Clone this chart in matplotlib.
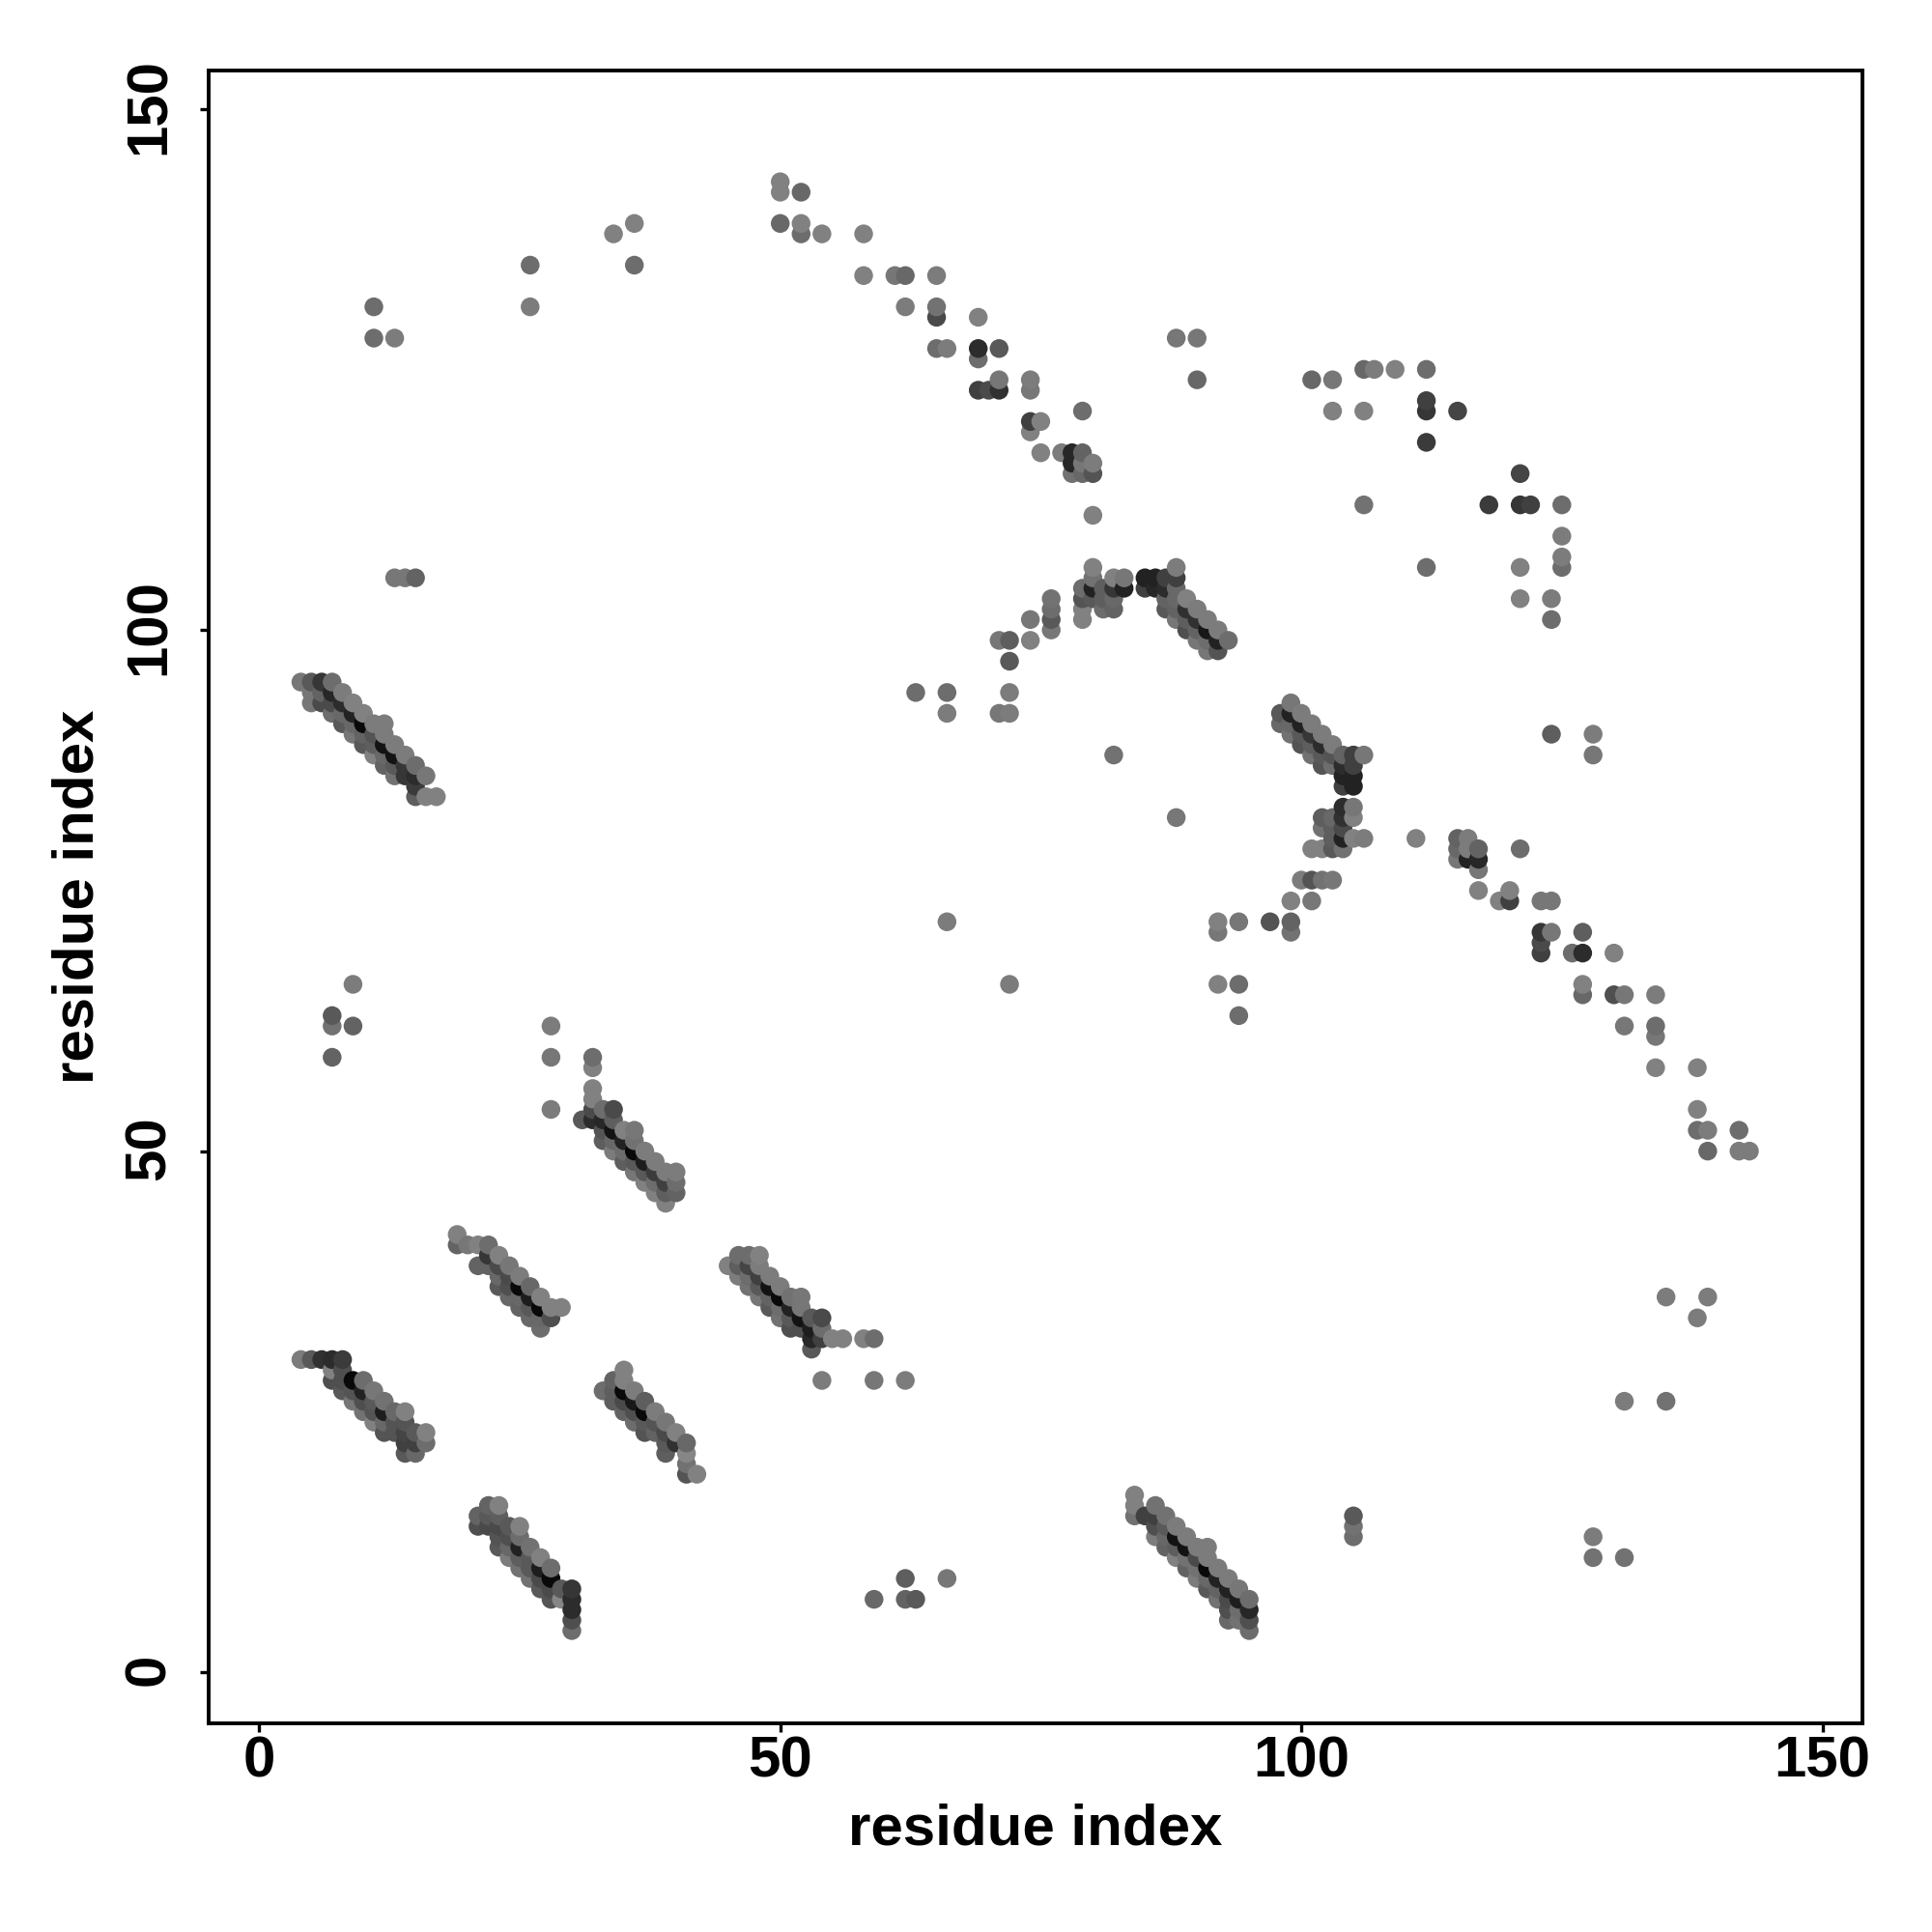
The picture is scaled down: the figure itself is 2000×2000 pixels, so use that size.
import numpy as np
import matplotlib
matplotlib.use("Agg")
import matplotlib.pyplot as plt
from matplotlib.transforms import ScaledTranslation

x_ticks = [0, 50, 100, 150]
y_ticks = [0, 50, 100, 150]
x_label = "residue index"
y_label = "residue index"

# contacts: (residue i, residue j, grey level)
band_a = [(4,30,120),(5,30,85),(6,30,45),(7,30,40),(8,30,55),(7,29,125),(7,28,75),(8,29,75),(8,28,75),(9,28,5),(10,28,105),
(8,27,85),(9,27,80),(10,27,30),(11,27,115),(9,26,115),(10,26,75),(11,26,85),(12,26,110),(10,25,110),(11,25,80),(12,25,25),(13,25,100),(14,25,125),
(11,24,125),(12,24,100),(13,24,80),(14,24,80),(12,23,80),(13,23,80),(14,23,65),(15,23,85),(16,23,125),(14,22,60),(15,22,60),(16,22,105),(14,21,85),(15,21,100)]
band_b = [(19,42,125),(19,41,95),(20,41,115),(21,41,125),(22,41,105),(21,39,95),(22,40,50),(22,39,95),(23,40,125),(23,39,70),(24,39,115),
(23,38,100),(24,38,70),(25,38,120),(23,37,85),(24,37,75),(25,37,5),(26,37,100),(24,36,100),(25,36,100),(26,36,25),(27,36,125),
(25,35,95),(26,35,85),(27,35,5),(28,35,125),(29,35,125),(26,34,100),(27,34,100),(28,34,75),(27,33,105)]
band_c = [(35,29,125),(34,28,95),(35,28,125),(33,27,105),(34,27,90),(35,27,5),(36,27,120),(34,26,90),(35,26,70),(36,26,20),(37,26,90),
(35,25,95),(36,25,75),(37,25,5),(38,25,120),(36,24,105),(37,24,85),(38,24,80),(39,24,115),(37,23,80),(38,23,95),(39,23,70),(40,23,125),
(39,22,85),(40,22,45),(41,22,100),(39,21,90),(41,21,130),(41,20,110),(41,19,80),(42,19,125)]
band_d = [(22,16,95),(23,16,125),(21,15,95),(22,15,85),(23,15,90),(21,14,75),(22,14,70),(23,14,70),(24,14,85),(25,14,125),(23,13,80),(24,13,75),(25,13,105),
(23,12,85),(24,12,100),(25,12,30),(26,12,110),(24,11,120),(25,11,90),(26,11,85),(27,11,125),(25,10,110),(26,10,85),(27,10,25),(28,10,105),
(26,9,110),(27,9,70),(28,9,5),(27,8,85),(28,8,70),(29,8,85),(30,8,50),(28,7,80),(29,7,130),(30,7,40),(30,6,40),(30,5,75),(30,4,105)]
band_e = [(4,95,115),(5,95,85),(6,95,50),(7,95,105),(5,94,115),(6,94,95),(7,94,35),(8,94,120),(5,93,115),(6,93,70),(7,93,70),(8,93,40),(9,93,125),
(7,92,105),(8,92,100),(9,92,30),(10,92,125),(8,91,85),(9,91,100),(10,91,5),(11,91,120),(12,91,120),(9,90,115),(10,90,95),(11,90,80),(12,90,120),
(10,89,85),(11,89,90),(12,89,15),(13,89,120),(11,88,125),(12,88,100),(13,88,15),(14,88,120),(12,87,95),(13,87,85),(14,87,50),(15,87,105),
(13,86,110),(14,86,50),(15,86,40),(16,86,115),(15,85,55),(15,84,90),(16,84,125),(17,84,125)]
band_f = [(32,59,105),(32,58,125),(32,56,125),(32,55,125),(31,53,85),(32,54,70),(32,53,40),(33,54,105),(34,54,70),(33,53,35),(34,53,90),
(33,52,80),(34,52,15),(35,52,125),(36,52,115),(33,51,90),(34,51,100),(35,51,30),(36,51,110),(34,50,120),(35,50,105),(36,50,5),(37,50,120),
(35,49,90),(36,49,85),(37,49,25),(38,49,120),(36,48,115),(37,48,85),(38,48,55),(39,48,120),(40,48,120),(37,47,125),(38,47,105),(39,47,60),(40,47,105),
(38,46,125),(39,46,90),(40,46,95),(39,45,125)]
band_g = [(45,39,125),(46,40,105),(47,40,105),(48,40,125),(46,39,90),(47,39,65),(48,39,120),(46,38,120),(47,38,105),(48,38,60),(49,38,120),
(47,37,110),(48,37,85),(49,37,15),(50,37,120),(48,36,115),(49,36,95),(50,36,5),(51,36,110),(52,36,115),(49,35,85),(50,35,105),(51,35,30),(52,35,115),
(50,34,110),(51,34,85),(52,34,15),(53,34,85),(54,34,70),(51,33,75),(52,33,75),(53,33,25),(54,33,105),(53,32,35),(54,32,60),(55,32,125),(56,32,125),
(58,32,125),(59,32,105),(53,31,85),(54,28,120),(59,28,115),(62,28,120)]
band_h = [(84,17,125),(84,16,125),(84,15,110),(85,15,60),(86,16,110),(86,15,60),(86,14,75),(87,15,110),(87,14,85),(86,13,120),(87,13,100),(88,13,15),(88,14,120),
(87,12,95),(88,12,90),(89,12,15),(89,13,120),(88,11,125),(89,11,110),(90,11,70),(90,12,120),(91,12,120),(89,10,95),(90,10,110),(91,10,5),(91,11,120),(92,10,120),
(90,9,120),(91,9,100),(92,9,30),(93,9,120),(91,8,85),(92,8,95),(93,8,30),(94,8,115),(92,7,110),(93,7,70),(94,7,25),(95,7,105),
(93,6,75),(94,6,105),(95,6,35),(93,5,100),(94,5,110),(95,5,75),(95,4,105)]
arc_upper = [(71,99,115),(72,99,90),(72,97,85),(72,94,120),(71,92,115),(72,92,120),(74,101,115),(74,99,125),(76,103,110),(76,102,105),(76,101,85),(76,100,115),
(79,104,105),(79,103,80),(79,102,125),(79,101,125),(80,106,125),(80,105,110),(80,104,30),(80,103,85),(81,104,90),(81,103,90),(81,102,105),
(82,105,125),(82,104,50),(82,103,100),(82,102,95),(83,105,115),(83,104,30),(85,105,30),(86,105,30),(87,105,60),(88,106,120),(88,105,60),
(85,104,60),(86,104,35),(87,104,40),(88,104,100),(87,103,95),(88,103,100),(87,102,85),(88,102,95),(88,101,115),(89,103,125),(89,102,45),(90,102,120),
(89,101,90),(90,101,45),(91,101,120),(89,100,75),(90,100,95),(91,100,20),(92,100,120),(90,99,115),(91,99,105),(92,99,30),(93,99,105),(91,98,115),(92,98,80)]
band_i = [(99,93,115),(98,92,85),(99,92,30),(100,92,120),(98,91,100),(99,91,100),(100,91,30),(101,91,120),(99,90,110),(100,90,85),(101,90,50),(102,90,120),
(100,89,80),(101,89,90),(102,89,40),(103,89,120),(101,88,110),(102,88,85),(103,88,80),(104,88,95),(105,88,60),(106,88,115),(102,87,80),(103,87,105),(104,87,40),(105,87,60),
(104,86,30),(105,86,30),(104,85,60),(105,85,30)]
band_j = [(104,83,40),(105,83,115),(102,82,90),(103,82,100),(104,82,45),(105,82,125),(102,81,110),(103,81,90),(104,81,70),(103,80,90),(104,80,30),(105,80,125),(106,80,120),
(101,79,125),(102,79,125),(103,79,85),(104,79,110),(111,80,125),(100,76,120),(101,76,80),(102,76,110),(103,76,115),(99,74,125),(101,74,115),
(92,72,125),(92,71,115),(94,72,115),(97,72,80),(99,72,95),(99,71,110),(92,66,125),(94,66,105),(94,63,105)]
arc_lower = [(115,80,95),(116,80,120),(115,79,100),(116,79,120),(115,78,115),(116,78,30),(117,79,95),(117,78,35),(117,77,115),(117,75,125),(121,79,105),
(119,74,125),(120,75,125),(120,74,60),(123,74,115),(124,74,115),(123,71,50),(124,71,115),(123,70,70),(123,69,60),(127,71,90),(126,69,105),(127,69,40),(130,69,125),
(127,66,125),(127,65,100),(130,65,75),(131,65,115),(134,65,120),(131,62,115),(134,62,105),(134,61,115),(134,58,125),(138,58,125),(138,54,125),
(138,52,105),(139,52,120),(142,52,105),(139,50,100),(142,50,120),(143,50,120)]
arc_top = [(50,143,125),(50,142,125),(52,142,100),(50,139,100),(52,139,125),(52,138,105),(54,138,125),(58,138,125),(34,138,125),(36,139,125),(36,135,105),(26,135,105),(26,131,120),
(11,131,105),(11,128,105),(13,128,120),(58,134,125),(61,134,115),(62,134,100),(65,134,120),(62,131,120),(65,131,110),(65,130,70),(69,130,125),
(65,127,105),(66,127,120),(69,127,40),(71,127,85),(69,126,105),(71,124,115),(69,123,60),(70,123,70),(71,123,45),(74,124,120),(74,123,115),(74,120,60),(75,120,125),(74,119,125),
(75,117,125),(77,117,120),(78,117,35),(78,116,35),(78,115,110),(79,117,95),(79,116,115),(79,115,100),(80,116,120),(80,115,80),(79,121,105),(80,111,125)]
arc_right = [(88,128,115),(90,128,115),(90,124,100),(101,124,100),(103,124,115),(106,125,100),(107,125,120),(109,125,125),(112,125,105),(103,121,125),(106,121,125),
(112,122,60),(112,121,50),(115,121,65),(112,118,55),(121,115,65),(118,112,55),(121,112,50),(122,112,60),(125,112,105),(106,112,110),(125,109,120),(125,107,120),(125,106,105),
(112,106,105),(121,106,125),(121,103,125),(124,103,120),(124,101,105),(13,105,115),(14,105,115),(15,105,95)]
scattered = [(63,94,105),(66,94,105),(66,92,120),(82,88,110),(88,82,115),(66,72,120),(72,66,120),(124,90,90),(128,90,120),(128,88,115),
(135,36,120),(139,36,120),(138,34,120),(131,26,120),(135,26,110),(105,15,85),(105,14,110),(105,13,105),(128,13,120),(128,11,110),(131,11,110),
(62,9,90),(66,9,115),(59,7,100),(62,7,95),(63,7,85),(9,66,120),(7,63,85),(7,62,110),(9,62,95),(7,59,95),(28,62,120),(28,59,115),(28,54,120)]

groups = [band_a, band_b, band_c, band_d, band_e, band_f, band_g, band_h, arc_upper, band_i,
          band_j, arc_lower, arc_top, arc_right, scattered]
pts = np.array([p for g in groups for p in g], dtype=float)
order = np.lexsort((pts[:, 1], pts[:, 0]))
pts = pts[order]

plt.rcParams['font.family'] = ['Liberation Sans', 'DejaVu Sans']
plt.rcParams['font.weight'] = 'bold'

fig = plt.figure(figsize=(10, 10), dpi=200, facecolor='white')
ax = fig.add_axes([216/2000, 1-1784/2000, (1927.5-216)/2000, (1784-72.7)/2000])
greys = np.repeat(np.clip(pts[:, 2:3] + 4, 0, 255) / 255.0, 3, axis=1)
ax.scatter(pts[:, 0], pts[:, 1], s=49, c=greys, linewidths=0, zorder=3)
ax.set_xlim(-4.85, 153.8)
ax.set_ylim(-4.9, 153.7)
ax.set_xticks(x_ticks)
ax.set_yticks(y_ticks)
ax.tick_params(axis='both', length=3.1, width=1.2, color='black', labelsize=21.6)
ax.tick_params(axis='x', pad=1.5)
ax.tick_params(axis='y', pad=9)
up = ScaledTranslation(0, 1.1/72, fig.dpi_scale_trans)
for t in ax.get_yticklabels():
    t.set_rotation(90)
    t.set_va('center')
    t.set_transform(t.get_transform() + up)
ax.set_xlabel(x_label, fontsize=21.6, fontweight='bold', va='center')
ax.set_ylabel(y_label, fontsize=21.6, fontweight='bold', va='center')
ax.xaxis.set_label_coords(0.5, -0.0644)
ax.yaxis.set_label_coords(-0.079, 0.5)
for s in ax.spines.values():
    s.set_linewidth(1.4)
fig.savefig("out.png", dpi=200, facecolor='white')
